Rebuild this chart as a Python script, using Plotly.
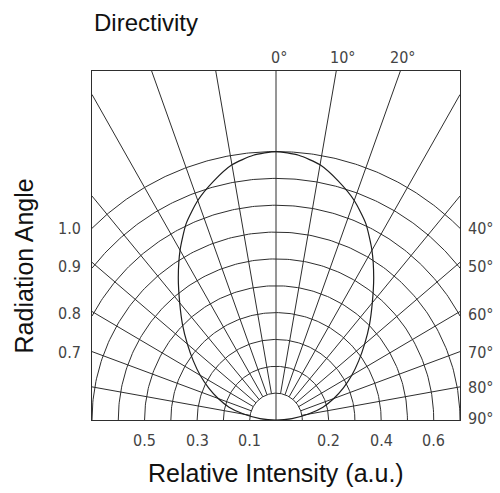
import numpy as np
import plotly.graph_objects as go

# ---- data ----
angles_deg = [0, 5, 10, 15, 20, 25, 30, 35, 40, 45, 50, 55, 60, 65, 70, 75, 80, 85, 90]
rel_intensity = [1.00, 0.99, 0.965, 0.92, 0.87, 0.808, 0.73, 0.648, 0.57, 0.503, 0.44,
                 0.384, 0.333, 0.283, 0.234, 0.185, 0.123, 0.061, 0.0]

# grid definitions (ring radii in units of 0.1 intensity, spoke angles)
ring_radii = [1, 2, 3, 4, 5, 6, 7, 8, 9, 10]
spoke_angles = [-80, -70, -60, -50, -40, -30, -20, -10, 0, 10, 20, 30, 40, 50, 60, 70, 80]

# tick labels
bottom_tick_vals = [-5, -3, -1, 2, 4, 6]
bottom_tick_text = ["0.5", "0.3", "0.1", "0.2", "0.4", "0.6"]
left_tick_vals = [7.14, 5.70, 3.98, 2.53]
left_tick_text = ["1.0", "0.9", "0.8", "0.7"]
right_tick_vals = [7.12, 5.70, 3.93, 2.52, 1.20, 0.07]
right_tick_text = ["40°", "50°", "60°", "70°", "80°", "90°"]
top_tick_vals = [0.11, 2.55, 4.85]
top_tick_text = ["0°", "10°", "20°"]

XH = 7.0    # half-width of the box (in 0.1 units)
YT = 13.0   # box height
SCALE = 10  # intensity 1.0 -> radius 10

grid_color = "#2e2e2e"
tick_font = dict(family="DejaVu Sans Condensed, Liberation Sans Narrow, sans-serif",
                 size=16, color="#444444")
title_font_family = "Liberation Sans, Arial, sans-serif"

# ---- build grid polylines ----
gx, gy = [], []
for r in ring_radii:
    if r > XH:
        tmax = np.arcsin(XH / r)
    else:
        tmax = np.pi / 2
    t = np.linspace(-tmax, tmax, 200)
    gx += list(r * np.sin(t)) + [None]
    gy += list(r * np.cos(t)) + [None]
for a in spoke_angles:
    th = np.radians(a)
    s, c = np.sin(th), np.cos(th)
    lims = []
    if abs(s) > 1e-9:
        lims.append(XH / abs(s))
    if c > 1e-9:
        lims.append(YT / c)
    L = min(lims)
    r0 = 0.0 if a == 0 else 1.0
    gx += [r0 * s, L * s, None]
    gy += [r0 * c, L * c, None]

fig = go.Figure()
fig.add_trace(go.Scatter(x=gx, y=gy, mode="lines",
                         line=dict(color=grid_color, width=1),
                         hoverinfo="skip", showlegend=False))

# ---- directivity curve (mirror both sides) ----
ang_full = [-a for a in angles_deg[::-1]] + angles_deg[1:]
int_full = rel_intensity[::-1] + rel_intensity[1:]
cx = [SCALE * v * np.sin(np.radians(a)) for a, v in zip(ang_full, int_full)]
cy = [SCALE * v * np.cos(np.radians(a)) for a, v in zip(ang_full, int_full)]
fig.add_trace(go.Scatter(x=cx, y=cy, mode="lines",
                         line=dict(color="#1e1e1e", width=1.2, shape="spline", smoothing=0.6),
                         showlegend=False))

# ---- tick labels as annotations tied to the data axes ----
annotations = []
for v, t in zip(bottom_tick_vals, bottom_tick_text):
    annotations.append(dict(text=t, x=v, y=0, xref="x", yref="y", xanchor="center",
                            yanchor="middle", yshift=-20, showarrow=False, font=tick_font))
for v, t in zip(left_tick_vals, left_tick_text):
    annotations.append(dict(text=t, x=-XH, y=v, xref="x", yref="y", xanchor="right",
                            yanchor="middle", xshift=-9, showarrow=False, font=tick_font))
for v, t in zip(right_tick_vals, right_tick_text):
    annotations.append(dict(text=t, x=XH, y=v, xref="x", yref="y", xanchor="left",
                            yanchor="middle", xshift=6, showarrow=False, font=tick_font))
for v, t in zip(top_tick_vals, top_tick_text):
    annotations.append(dict(text=t, x=v, y=YT, xref="x", yref="y", xanchor="center",
                            yanchor="middle", yshift=14, showarrow=False, font=tick_font))

annotations += [
    dict(text="Directivity", xref="paper", yref="paper", x=0, y=1,
         xanchor="left", yanchor="middle", yshift=49, showarrow=False,
         font=dict(size=24, family=title_font_family, color="#111111")),
    dict(text="Relative Intensity (a.u.)", xref="paper", yref="paper", x=0.5, y=0,
         xanchor="center", yanchor="middle", yshift=-53, showarrow=False,
         font=dict(size=25, family=title_font_family, color="#111111")),
    dict(text="Radiation Angle", xref="paper", yref="paper", x=0, y=0.44,
         xanchor="center", yanchor="middle", xshift=-68, textangle=-90, showarrow=False,
         font=dict(size=25, family=title_font_family, color="#111111")),
]

axis_common = dict(showgrid=False, zeroline=False, ticks="", fixedrange=True,
                   automargin=False, showticklabels=False, showline=True, mirror=True,
                   linecolor=grid_color, linewidth=1)

fig.update_layout(
    width=500, height=493,
    margin=dict(l=92, r=40, t=71, b=73),
    paper_bgcolor="white", plot_bgcolor="white",
    xaxis=dict(range=[-XH, XH], **axis_common),
    yaxis=dict(range=[0, YT], **axis_common),
    font=dict(family=title_font_family, color="#111111"),
    annotations=annotations,
)

fig.write_html("out.html", config={"displayModeBar": False},
               post_script="document.body.style.margin='0';document.body.style.padding='0';")
